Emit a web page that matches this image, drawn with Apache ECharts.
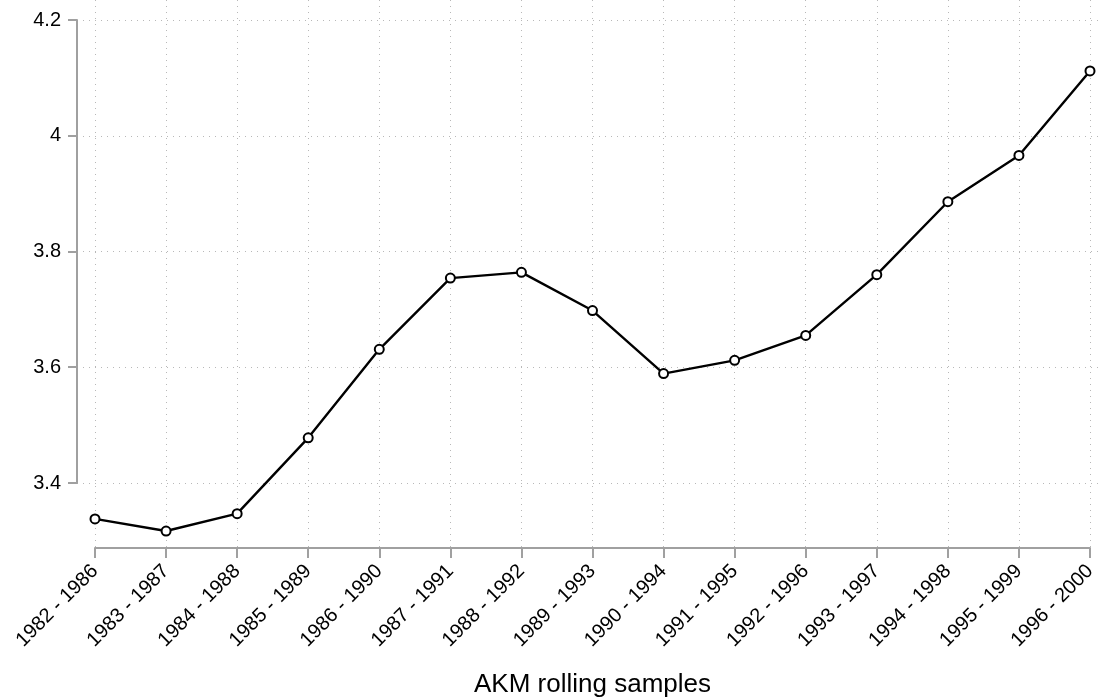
<!DOCTYPE html>
<html>
<head>
<meta charset="utf-8">
<script src="https://cdn.jsdelivr.net/npm/echarts@6/dist/echarts.min.js"></script>
<style>
html,body{margin:0;padding:0;background:#fff;}
#c{width:1101px;height:698px;}
</style>
</head>
<body>
<div id="c"></div>
<script>
const categories = ["1982 - 1986","1983 - 1987","1984 - 1988","1985 - 1989","1986 - 1990","1987 - 1991","1988 - 1992","1989 - 1993","1990 - 1994","1991 - 1995","1992 - 1996","1993 - 1997","1994 - 1998","1995 - 1999","1996 - 2000"];
const values = [3.338, 3.317, 3.347, 3.478, 3.631, 3.754, 3.764, 3.698, 3.589, 3.612, 3.655, 3.760, 3.886, 3.966, 4.112];
const yTicks = [3.4, 3.6, 3.8, 4.0, 4.2];
const xTitle = "AKM rolling samples";

const FONT = "'Liberation Sans', Arial, Helvetica, sans-serif";
const AXIS_COLOR = '#a0a0a0';
const GRID_COLOR = '#b8b8b8';

const yMinTick = yTicks[0], yMaxTick = yTicks[yTicks.length-1];
const pxPerUnit = 463 / (yMaxTick - yMinTick);
const mainMin = yMinTick - 65 / pxPerUnit;
const mainMax = yMaxTick + 20 / pxPerUnit;

const chart = echarts.init(document.getElementById('c'), null, {renderer:'canvas'});
chart.setOption({
  animation: false,
  backgroundColor: '#ffffff',
  textStyle: {fontFamily: FONT},
  grid: [
    {left: 95, right: 11, top: 0, bottom: 150, containLabel: false, outerBoundsMode: 'none'},
    {left: 77, right: 0, top: 20, bottom: 215, containLabel: false, outerBoundsMode: 'none'}
  ],
  xAxis: [
    {
      type: 'category', gridIndex: 0, data: categories, boundaryGap: false,
      axisLine: {show: true, lineStyle: {color: AXIS_COLOR, width: 2}},
      axisTick: {show: true, length: 10, alignWithLabel: true, lineStyle: {color: AXIS_COLOR, width: 2}},
      axisLabel: {rotate: 45, fontSize: 20, color: '#000', margin: 20, fontFamily: FONT, interval: 0},
      splitLine: {show: true, lineStyle: {color: GRID_COLOR, type: [1, 5], width: 1}},
      name: xTitle, nameLocation: 'middle', nameGap: 124,
      nameTextStyle: {fontSize: 26, color: '#000', fontFamily: FONT}
    },
    {type: 'value', gridIndex: 1, show: false, min: 0, max: 1}
  ],
  yAxis: [
    {type: 'value', gridIndex: 0, show: false, min: mainMin, max: mainMax, splitLine: {show: false}},
    {
      type: 'value', gridIndex: 1, min: yMinTick, max: yMaxTick, interval: 0.2,
      axisLine: {show: true, lineStyle: {color: AXIS_COLOR, width: 2}},
      axisTick: {show: true, length: 9, lineStyle: {color: AXIS_COLOR, width: 2}},
      axisLabel: {fontSize: 20, color: '#000', margin: 16, fontFamily: FONT,
        formatter: v => String(parseFloat(v.toFixed(1)))},
      splitLine: {show: true, lineStyle: {color: GRID_COLOR, type: [1, 5], width: 1}}
    }
  ],
  series: [{
    type: 'line', xAxisIndex: 0, yAxisIndex: 0, data: values,
    symbol: 'emptyCircle', symbolSize: 9,
    lineStyle: {color: '#000', width: 2.4},
    itemStyle: {color: '#000', borderColor: '#000', borderWidth: 2.4},
    z: 5
  }]
});
</script>
</body>
</html>
